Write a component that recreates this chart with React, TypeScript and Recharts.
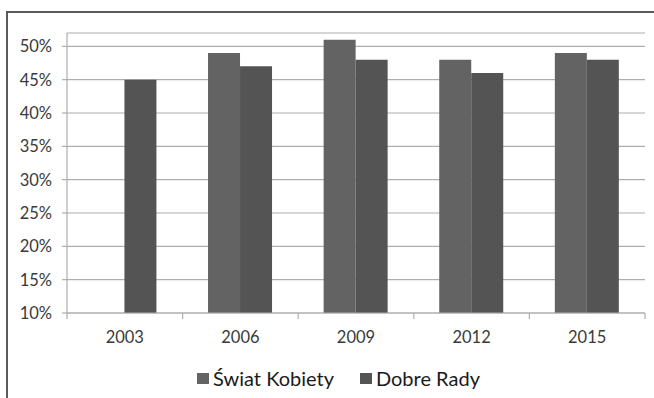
import { BarChart, Bar, XAxis, YAxis, CartesianGrid, Legend } from "recharts";

const years = ["2003", "2006", "2009", "2012", "2015"];
const swiatKobiety = [null, 0.49, 0.51, 0.48, 0.49];
const dobreRady = [0.45, 0.47, 0.48, 0.46, 0.48];
const yTicks = [0.1, 0.15, 0.2, 0.25, 0.3, 0.35, 0.4, 0.45, 0.5];

const seriesNames = ["Świat Kobiety", "Dobre Rady"];
const seriesColors = ["#636363", "#545454"];

const data = years.map((year, i) => ({
  year,
  sk: swiatKobiety[i],
  dr: dobreRady[i],
}));

const FONT = "Lato, 'Open Sans', sans-serif";
const AXIS_GREY = "#aeaeae";

// category label plus tick marks on the band boundaries (Excel style)
function YearTick(props: any) {
  const { x, y, payload, index, visibleTicksCount } = props;
  const half = payload.offset ?? 0;
  const top = y - 18;
  return (
    <g>
      <line x1={x - half} x2={x - half} y1={top} y2={top + 6} stroke={AXIS_GREY} strokeWidth={1.2} />
      {index === visibleTicksCount - 1 && (
        <line x1={x + half} x2={x + half} y1={top} y2={top + 6} stroke={AXIS_GREY} strokeWidth={1.2} />
      )}
      <text x={x} y={y} dy={12} textAnchor="middle" fill="#3a3a3a" fontSize={16.5} fontFamily={FONT}>
        {payload.value}
      </text>
    </g>
  );
}

function LegendRow() {
  return (
    <div
      style={{
        display: "flex",
        justifyContent: "center",
        alignItems: "center",
        gap: 26,
        fontFamily: FONT,
        fontSize: 20,
        color: "#1a1a1a",
        paddingLeft: 32,
        paddingTop: 15,
      }}
    >
      {seriesNames.map((name, i) => (
        <span key={name} style={{ display: "flex", alignItems: "center" }}>
          <span
            style={{
              display: "inline-block",
              width: 12,
              height: 11,
              background: seriesColors[i],
              marginRight: 4,
            }}
          />
          {name}
        </span>
      ))}
    </div>
  );
}

export default function App() {
  return (
    <>
      <style>{"html, body { margin: 0; overflow: hidden; }"}</style>
      <div
        style={{
          position: "fixed",
          left: 0,
          top: 0,
          width: 654,
          height: 398,
          background: "#fff",
        }}
      >
        {/* outer chart frame: top and left edges drawn as thin bars */}
        <div style={{ position: "absolute", left: 6, top: 11, width: 648, height: 2, background: "#5a5a5a" }} />
        <div style={{ position: "absolute", left: 6, top: 11, width: 2, height: 387, background: "#5a5a5a" }} />
        <div style={{ position: "absolute", left: 0, top: 0 }}>
          <BarChart
            width={654}
            height={398}
            data={data}
            margin={{ top: 33, right: 9, left: 0, bottom: 2 }}
            barCategoryGap="22%"
            barGap={0}
          >
            <CartesianGrid horizontal vertical={false} stroke={AXIS_GREY} strokeWidth={1.2} />
            <XAxis
              dataKey="year"
              axisLine={{ stroke: AXIS_GREY, strokeWidth: 1.2 }}
              tickLine={false}
              tickSize={0}
              tickMargin={18}
              height={38}
              tick={<YearTick />}
            />
            <YAxis
              width={67}
              domain={[0.1, 0.52]}
              ticks={yTicks}
              allowDataOverflow
              interval={0}
              tickFormatter={(v: number) => `${Math.round(v * 100)}%`}
              axisLine={{ stroke: AXIS_GREY, strokeWidth: 1.2 }}
              tickLine={{ stroke: AXIS_GREY, strokeWidth: 1.2 }}
              tickSize={5}
              tickMargin={10}
              tick={{ fill: "#3a3a3a", fontSize: 16.5, fontFamily: FONT }}
            />
            <Legend verticalAlign="bottom" height={45} content={() => <LegendRow />} />
            <Bar dataKey="sk" name={seriesNames[0]} fill={seriesColors[0]} isAnimationActive={false} />
            <Bar dataKey="dr" name={seriesNames[1]} fill={seriesColors[1]} isAnimationActive={false} />
          </BarChart>
        </div>
      </div>
    </>
  );
}
